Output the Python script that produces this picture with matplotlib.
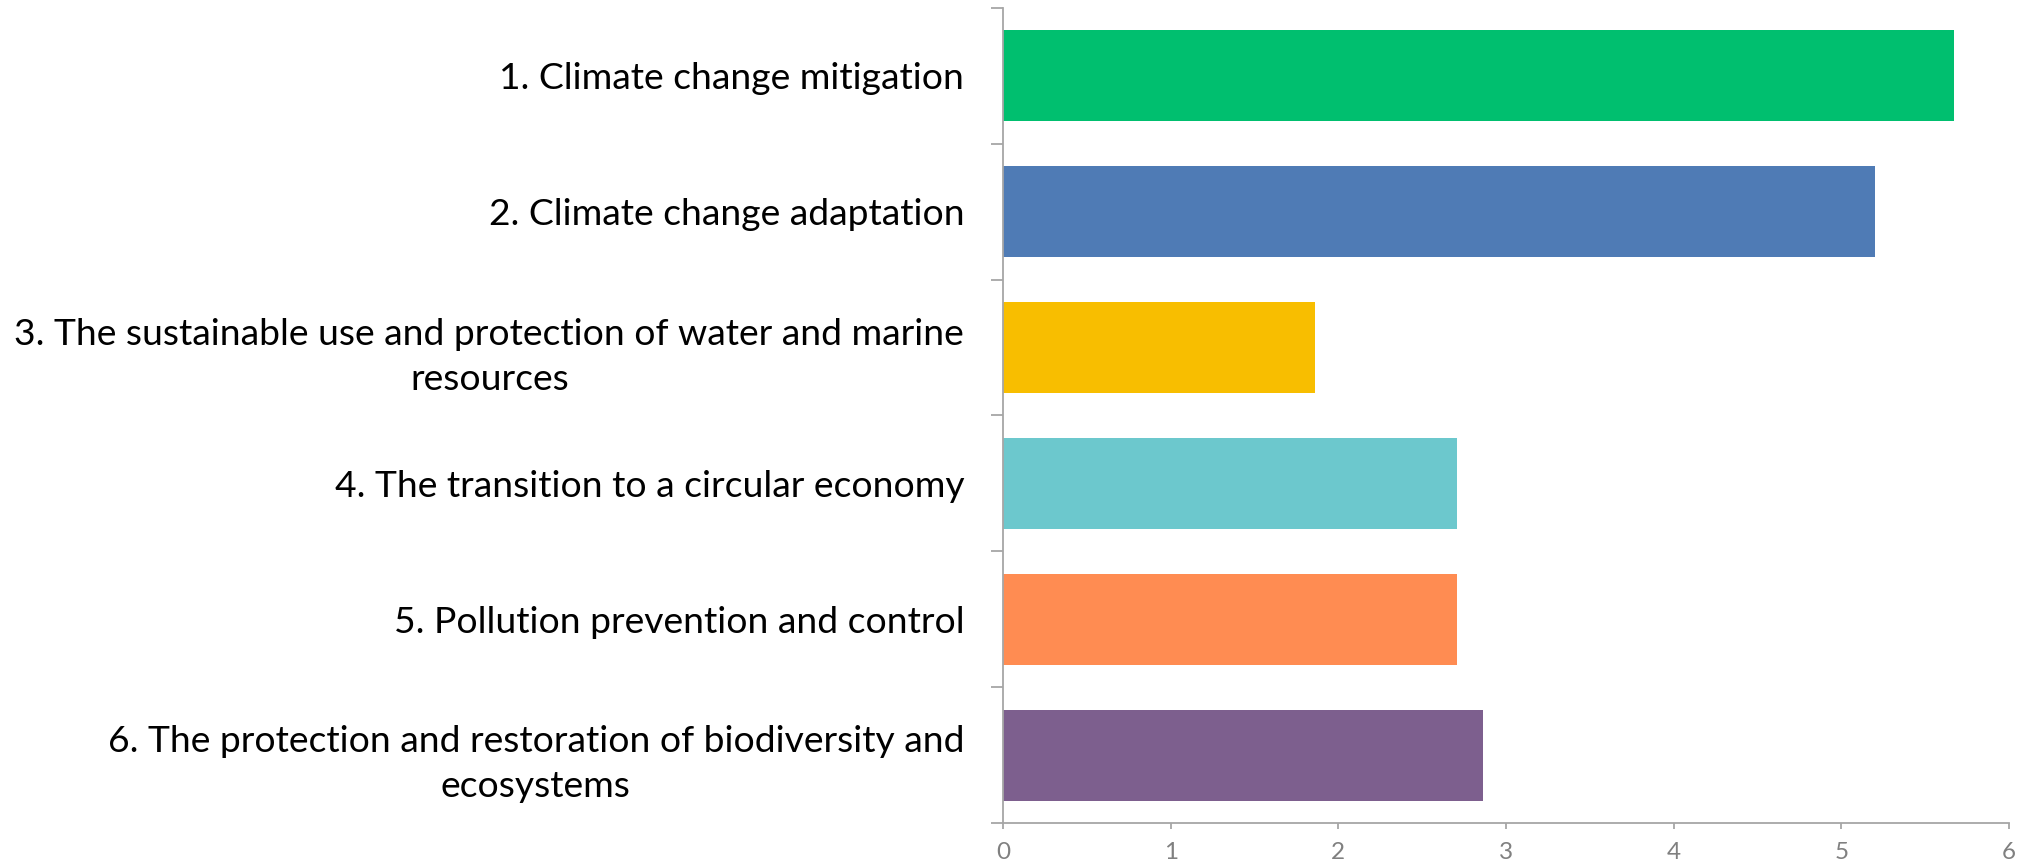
import matplotlib
matplotlib.use("Agg")

import matplotlib.pyplot as plt
import numpy as np

objectives = [
    "1. Climate change mitigation",
    "2. Climate change adaptation",
    "3. The sustainable use and protection of water and marine\nresources",
    "4. The transition to a circular economy",
    "5. Pollution prevention and control",
    "6. The protection and restoration of biodiversity and\necosystems",
]
scores = [5.67, 5.20, 1.86, 2.71, 2.71, 2.86]
colors = ["#00BF6F", "#4F7BB5", "#F8BE00", "#6CC8CD", "#FF8C52", "#7D5F8E"]

plt.rcParams["font.family"] = ["Lato", "DejaVu Sans"]

fig = plt.figure(figsize=(20.21, 8.67), dpi=100)
ax = fig.add_axes([0.4963, 0.0508, 0.4978, 0.94])

pos = np.arange(len(objectives))
ax.barh(pos, scores, height=0.67, color=colors)

ax.set_xlim(0, 6)
ax.set_ylim(len(objectives) - 0.5, -0.5)

axis_grey = "#A6A6A6"
for side in ["top", "right"]:
    ax.spines[side].set_visible(False)
for side in ["left", "bottom"]:
    ax.spines[side].set_color(axis_grey)
    ax.spines[side].set_linewidth(1.3)

# category labels in the middle, tick marks on the category boundaries
ax.set_yticks(pos)
ax.set_yticklabels(objectives, fontsize=26.8, color="black",
                   multialignment="center", linespacing=1.45)
ax.set_yticks(np.arange(len(objectives) + 1) - 0.5, minor=True)
ax.tick_params(axis="y", which="major", length=0, pad=28)
ax.tick_params(axis="y", which="minor", length=9, width=1.3, color=axis_grey, direction="out")

ax.set_xticks(range(7))
ax.tick_params(axis="x", length=4.5, width=1.3, color=axis_grey, labelsize=17.5,
               labelcolor="#808080", pad=9)

fig.savefig("out.png", dpi=100)
